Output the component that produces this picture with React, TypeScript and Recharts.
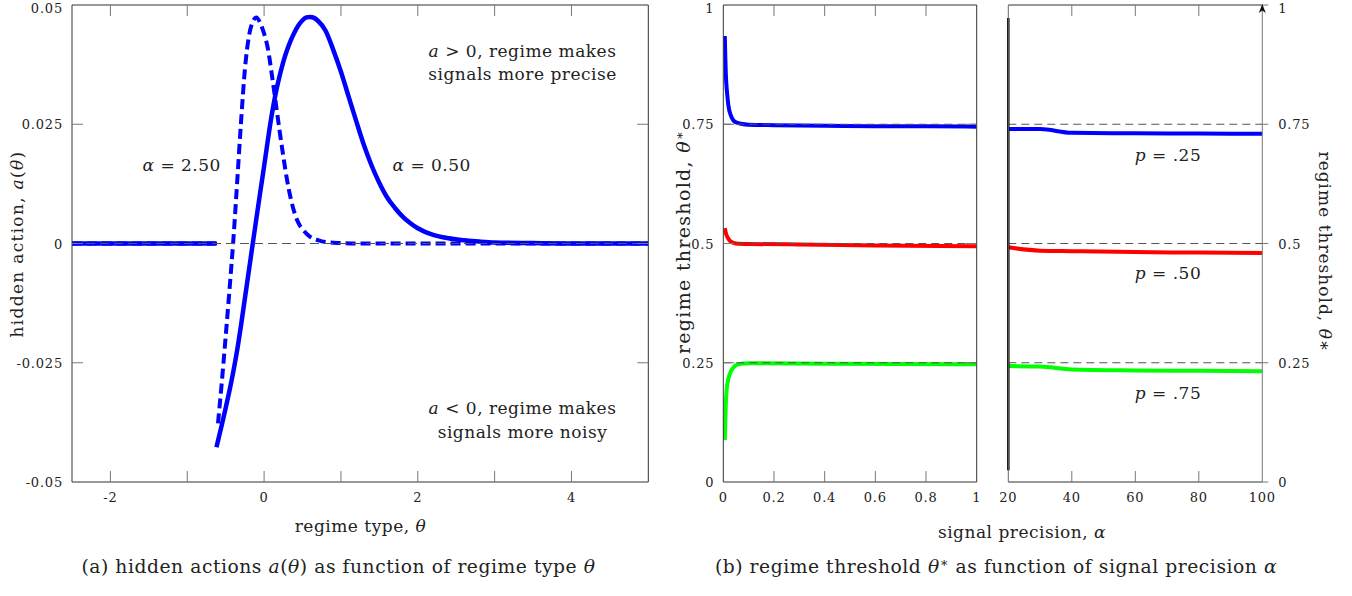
import React from 'react';
import { LineChart, Line, XAxis, YAxis, ReferenceLine } from 'recharts';

const FONT = '"DejaVu Serif", serif';
const TICK_COLOR = '#777';
const BORDER = '#333';
const REF_COLOR = '#555';
const BLUE = '#0000ff';
const RED = '#ff0000';
const GREEN = '#00ff00';

// ---------- Panel (a): hidden actions ----------
const thetaTicks = [-2, -1, 0, 1, 2, 3, 4];
const thetaTickLabels = ['-2', '', '0', '', '2', '', '4'];
const actionTicks = [-0.05, -0.025, 0, 0.025, 0.05];
const actionTickLabels = ['-0.05', '-0.025', '0', '0.025', '0.05'];

const zeroThetaLow = [-2.5, -0.63];
const zeroActionLow = [0, 0];
const zeroThetaHigh = [-2.5, -0.61];
const zeroActionHigh = [0, 0];

// alpha = 0.50 (solid)
const lowAlphaTheta = [-0.62, -0.55, -0.5, -0.45, -0.4, -0.35, -0.3, -0.25, -0.2, -0.15, -0.1, -0.05, 0, 0.05, 0.1, 0.15, 0.2, 0.25, 0.3, 0.35, 0.4, 0.45, 0.5, 0.55, 0.6, 0.65, 0.7, 0.8, 0.9, 1.0, 1.1, 1.2, 1.3, 1.4, 1.5, 1.6, 1.7, 1.8, 1.9, 2.0, 2.2, 2.4, 2.6, 2.8, 3.0, 3.5, 4.0, 5.0];
const lowAlphaAction = [-0.0427, -0.038, -0.0345, -0.0308, -0.0268, -0.0223, -0.0171, -0.0115, -0.0059, -0.0003, 0.0053, 0.0108, 0.0162, 0.0218, 0.027, 0.0314, 0.035, 0.0381, 0.0406, 0.0427, 0.0444, 0.0458, 0.0468, 0.0474, 0.0475, 0.0473, 0.0467, 0.0446, 0.0406, 0.036, 0.0308, 0.0256, 0.0206, 0.0163, 0.0127, 0.0097, 0.0075, 0.0057, 0.0043, 0.0032, 0.0018, 0.0011, 0.0007, 0.0004, 0.0002, 0.0001, 0, 0];

// alpha = 2.50 (dashed)
const highAlphaTheta = [-0.6, -0.55, -0.5, -0.45, -0.4, -0.35, -0.3, -0.25, -0.2, -0.15, -0.1, -0.05, 0, 0.05, 0.1, 0.15, 0.2, 0.25, 0.3, 0.35, 0.4, 0.45, 0.5, 0.6, 0.7, 0.8, 1.0, 1.2, 5.0];
const highAlphaAction = [-0.0377, -0.029, -0.0195, -0.0096, 0.0008, 0.013, 0.0255, 0.0365, 0.0432, 0.0464, 0.0474, 0.0462, 0.044, 0.0408, 0.0355, 0.0297, 0.0238, 0.0183, 0.0132, 0.0092, 0.0062, 0.0042, 0.003, 0.0014, 0.0007, 0.0003, 0.0001, 0, 0];

// ---------- Panel (b): regime threshold ----------
const thresholdTicks = [0, 0.25, 0.5, 0.75, 1];
const thresholdTickLabels = ['0', '0.25', '0.5', '0.75', '1'];
const precisionLowTicks = [0, 0.2, 0.4, 0.6, 0.8, 1];
const precisionLowTickLabels = ['0', '0.2', '0.4', '0.6', '0.8', '1'];
const precisionHighTicks = [20, 40, 60, 80, 100];
const precisionHighTickLabels = ['20', '40', '60', '80', '100'];
const referenceThresholds = [0.25, 0.5, 0.75];

const p25LowAlpha = [0.006, 0.008, 0.01, 0.015, 0.02, 0.03, 0.04, 0.05, 0.07, 0.1, 0.2, 0.4, 0.6, 0.8, 1.0];
const p25LowTheta = [0.935, 0.89, 0.855, 0.815, 0.79, 0.768, 0.758, 0.754, 0.751, 0.749, 0.748, 0.747, 0.746, 0.746, 0.745];
const p50LowAlpha = [0.006, 0.01, 0.02, 0.03, 0.05, 0.1, 0.3, 0.6, 1.0];
const p50LowTheta = [0.532, 0.522, 0.51, 0.504, 0.5, 0.499, 0.498, 0.496, 0.494];
const p75LowAlpha = [0.006, 0.008, 0.01, 0.013, 0.02, 0.03, 0.04, 0.05, 0.07, 0.1, 0.4, 1.0];
const p75LowTheta = [0.088, 0.13, 0.165, 0.192, 0.216, 0.232, 0.24, 0.245, 0.248, 0.249, 0.248, 0.247];

const highAlphaGrid = [20, 30, 40, 60, 80, 100];
const p25HighTheta = [0.74, 0.74, 0.732, 0.731, 0.7305, 0.73];
const p50HighTheta = [0.492, 0.485, 0.484, 0.482, 0.481, 0.48];
const p75HighTheta = [0.243, 0.242, 0.236, 0.234, 0.233, 0.232];

const zip = (xs: number[], ys: number[]) => xs.map((x, i) => ({ x, y: ys[i] }));

type Side = 'bottom' | 'top' | 'left' | 'right';
interface TickOpts {
  side: Side;
  len: number;
  ticks?: number[];
  labels?: string[];
  skipLine?: number[];
  outward?: boolean;
}

const makeTick = (o: TickOpts) => (props: any) => {
  const { x, y, payload } = props;
  const v = payload.value;
  const drawLine = !(o.skipLine || []).some((s) => Math.abs(s - v) < 1e-9);
  const d = o.outward ? -1 : 1;
  let x2 = x;
  let y2 = y;
  if (o.side === 'bottom') y2 = y - d * o.len;
  if (o.side === 'top') y2 = y + d * o.len;
  if (o.side === 'left') x2 = x + d * o.len;
  if (o.side === 'right') x2 = x - d * o.len;
  let label = '';
  if (o.ticks && o.labels) {
    const idx = o.ticks.findIndex((t) => Math.abs(t - v) < 1e-9);
    label = idx >= 0 ? o.labels[idx] : '';
  }
  let tx = x;
  let ty = y;
  let anchor: 'middle' | 'end' | 'start' = 'middle';
  if (o.side === 'bottom') ty = y + 19.5;
  if (o.side === 'left') {
    tx = x - 9;
    ty = Math.max(y + 5, 12.5);
    anchor = 'end';
  }
  if (o.side === 'right') {
    tx = x + 16;
    ty = Math.max(y + 5, 12.5);
    anchor = 'start';
  }
  return (
    <g>
      {drawLine && o.len > 0 && <line x1={x} y1={y} x2={x2} y2={y2} stroke={TICK_COLOR} strokeWidth={1} />}
      {label !== '' && (
        <text x={tx} y={ty} textAnchor={anchor} fontFamily={FONT} fontSize={13} letterSpacing={0.8} fill="#222">
          {label}
        </text>
      )}
    </g>
  );
};

const I = ({ children }: { children: React.ReactNode }) => <tspan fontStyle="italic">{children}</tspan>;

const lineCommon = { dot: false, isAnimationActive: false, activeDot: false } as any;
const axisCommon = { tickSize: 0, tickMargin: 0, tickLine: false, interval: 0, allowDataOverflow: true } as any;

function PanelA() {
  const dom: [number, number] = [-2.5, 5];
  const ydom: [number, number] = [-0.05, 0.05];
  return (
    <LineChart width={660} height={596} margin={{ top: 4, right: 10.7, bottom: 113, left: 71 }}>
      <XAxis xAxisId="b" dataKey="x" type="number" domain={dom} ticks={thetaTicks} height={1} axisLine={{ stroke: BORDER }} {...axisCommon}
        tick={makeTick({ side: 'bottom', len: 11, ticks: thetaTicks, labels: thetaTickLabels })} />
      <XAxis xAxisId="t" dataKey="x" type="number" orientation="top" domain={dom} ticks={thetaTicks} height={1} axisLine={{ stroke: BORDER }} {...axisCommon}
        tick={makeTick({ side: 'top', len: 11 })} />
      <YAxis yAxisId="l" type="number" domain={ydom} ticks={actionTicks} width={1} axisLine={{ stroke: BORDER }} {...axisCommon}
        tick={makeTick({ side: 'left', len: 11, ticks: actionTicks, labels: actionTickLabels, skipLine: [-0.05, 0.05] })} />
      <YAxis yAxisId="r" type="number" orientation="right" domain={ydom} ticks={actionTicks} width={1} axisLine={{ stroke: BORDER }} {...axisCommon}
        tick={makeTick({ side: 'right', len: 11, skipLine: [-0.05, 0.05] })} />
      <Line xAxisId="b" yAxisId="l" data={zip(zeroThetaHigh, zeroActionHigh)} dataKey="y" type="linear" stroke={BLUE} strokeWidth={4} strokeDasharray="10 5" {...lineCommon} />
      <Line xAxisId="b" yAxisId="l" data={zip(highAlphaTheta, highAlphaAction)} dataKey="y" type="monotone" stroke={BLUE} strokeWidth={4} strokeDasharray="10 5" {...lineCommon} />
      <Line xAxisId="b" yAxisId="l" data={zip(zeroThetaLow, zeroActionLow)} dataKey="y" type="linear" stroke={BLUE} strokeWidth={4.5} {...lineCommon} />
      <Line xAxisId="b" yAxisId="l" data={zip(lowAlphaTheta, lowAlphaAction)} dataKey="y" type="monotone" stroke={BLUE} strokeWidth={4.5} strokeLinejoin="round" {...lineCommon} />
      <ReferenceLine xAxisId="b" yAxisId="l" y={0} stroke={REF_COLOR} strokeWidth={1} strokeDasharray="9 5" />
    </LineChart>
  );
}

function PanelB1() {
  const dom: [number, number] = [0, 1];
  const ydom: [number, number] = [0, 1];
  return (
    <LineChart width={330} height={596} margin={{ top: 4, right: 12.3, bottom: 113, left: 62.3 }}>
      <XAxis xAxisId="b" dataKey="x" type="number" domain={dom} ticks={precisionLowTicks} height={1} axisLine={{ stroke: BORDER }} {...axisCommon}
        tick={makeTick({ side: 'bottom', len: 11, ticks: precisionLowTicks, labels: precisionLowTickLabels, skipLine: [0, 1] })} />
      <XAxis xAxisId="t" dataKey="x" type="number" orientation="top" domain={dom} ticks={precisionLowTicks} height={1} axisLine={{ stroke: BORDER }} {...axisCommon}
        tick={makeTick({ side: 'top', len: 11, skipLine: [0, 1] })} />
      <YAxis yAxisId="l" type="number" domain={ydom} ticks={thresholdTicks} width={1} axisLine={{ stroke: BORDER }} {...axisCommon}
        tick={makeTick({ side: 'left', len: 11, ticks: thresholdTicks, labels: thresholdTickLabels, skipLine: [0, 1] })} />
      <YAxis yAxisId="r" type="number" orientation="right" domain={ydom} ticks={thresholdTicks} width={1} axisLine={{ stroke: BORDER }} {...axisCommon}
        tick={makeTick({ side: 'right', len: 11, skipLine: [0, 1] })} />
      <Line xAxisId="b" yAxisId="l" data={zip(p25LowAlpha, p25LowTheta)} dataKey="y" type="monotone" stroke={BLUE} strokeWidth={4} {...lineCommon} />
      <Line xAxisId="b" yAxisId="l" data={zip(p50LowAlpha, p50LowTheta)} dataKey="y" type="monotone" stroke={RED} strokeWidth={4} {...lineCommon} />
      <Line xAxisId="b" yAxisId="l" data={zip(p75LowAlpha, p75LowTheta)} dataKey="y" type="monotone" stroke={GREEN} strokeWidth={4} {...lineCommon} />
      {referenceThresholds.map((t) => (
        <ReferenceLine key={t} xAxisId="b" yAxisId="l" y={t} stroke={REF_COLOR} strokeWidth={1} strokeDasharray="8 5" />
      ))}
    </LineChart>
  );
}

function PanelB2() {
  const dom: [number, number] = [20, 100];
  const ydom: [number, number] = [0, 1];
  return (
    <LineChart width={362} height={596} margin={{ top: 4, right: 88.7, bottom: 113, left: 17.3 }}>
      <XAxis xAxisId="b" dataKey="x" type="number" domain={dom} ticks={precisionHighTicks} height={1} axisLine={{ stroke: BORDER }} {...axisCommon}
        tick={makeTick({ side: 'bottom', len: 11, ticks: precisionHighTicks, labels: precisionHighTickLabels, skipLine: [20, 100] })} />
      <XAxis xAxisId="t" dataKey="x" type="number" orientation="top" domain={dom} ticks={precisionHighTicks} height={1} axisLine={{ stroke: BORDER }} {...axisCommon}
        tick={makeTick({ side: 'top', len: 11, skipLine: [20, 100] })} />
      <YAxis yAxisId="l" type="number" domain={ydom} ticks={thresholdTicks} width={1} axisLine={{ stroke: '#666' }} {...axisCommon}
        tick={makeTick({ side: 'left', len: 0 })} />
      <YAxis yAxisId="r" type="number" orientation="right" domain={ydom} ticks={thresholdTicks} width={1} axisLine={{ stroke: TICK_COLOR }} {...axisCommon}
        tick={makeTick({ side: 'right', len: 6, outward: true, ticks: thresholdTicks, labels: thresholdTickLabels })} />
      <Line xAxisId="b" yAxisId="l" data={zip(highAlphaGrid, p25HighTheta)} dataKey="y" type="monotone" stroke={BLUE} strokeWidth={4} {...lineCommon} />
      <Line xAxisId="b" yAxisId="l" data={zip(highAlphaGrid, p50HighTheta)} dataKey="y" type="monotone" stroke={RED} strokeWidth={4} {...lineCommon} />
      <Line xAxisId="b" yAxisId="l" data={zip(highAlphaGrid, p75HighTheta)} dataKey="y" type="monotone" stroke={GREEN} strokeWidth={4} {...lineCommon} />
      {referenceThresholds.map((t) => (
        <ReferenceLine key={t} xAxisId="b" yAxisId="l" y={t} stroke={REF_COLOR} strokeWidth={1} strokeDasharray="8 5" />
      ))}
      <ReferenceLine xAxisId="b" yAxisId="l" segment={[{ x: 20, y: 0.0245 }, { x: 20, y: 0.973 }]} stroke="#000" strokeWidth={2.5} />
    </LineChart>
  );
}

export default function App() {
  const txt = { fontFamily: FONT, fontSize: 17, letterSpacing: 0.5, fill: '#222' } as any;
  const cap = { ...txt, fontSize: 18.7, letterSpacing: 0.55 };
  return (
    <div style={{ position: 'absolute', left: 0, top: 0, width: 1352, height: 596, background: '#fff', fontFamily: FONT }}>
      <div style={{ position: 'absolute', left: 0, top: 0 }}>
        <PanelA />
      </div>
      <div style={{ position: 'absolute', left: 660, top: 0 }}>
        <PanelB1 />
      </div>
      <div style={{ position: 'absolute', left: 990, top: 0 }}>
        <PanelB2 />
      </div>
      <svg width={1352} height={596} style={{ position: 'absolute', left: 0, top: 0, pointerEvents: 'none' }}>
        {/* panel (a) texts */}
        <text {...txt} letterSpacing={1.3} x={23} y={244} textAnchor="middle" transform="rotate(-90 23 244)">
          hidden action, <I>a</I>(<I>θ</I>)
        </text>
        <text {...txt} x={360.5} y={532} textAnchor="middle">
          regime type, <I>θ</I>
        </text>
        <text {...txt} x={522.5} y={57} textAnchor="middle">
          <I>a</I> {'>'} 0, regime makes
        </text>
        <text {...txt} x={522.5} y={80} textAnchor="middle">
          signals more precise
        </text>
        <text {...txt} x={522.5} y={414} textAnchor="middle">
          <I>a</I> {'<'} 0, regime makes
        </text>
        <text {...txt} x={522.5} y={438} textAnchor="middle">
          signals more noisy
        </text>
        <text {...txt} x={181.7} y={171} textAnchor="middle">
          <I>α</I> = 2.50
        </text>
        <text {...txt} x={431.7} y={171} textAnchor="middle">
          <I>α</I> = 0.50
        </text>
        <text {...cap} x={338.5} y={573} textAnchor="middle">
          (a) hidden actions <I>a</I>(<I>θ</I>) as function of regime type <I>θ</I>
        </text>
        {/* panel (b) texts */}
        <text {...txt} fontSize={19} letterSpacing={1.3} x={690} y={242} textAnchor="middle" transform="rotate(-90 690 242)">
          regime threshold, <I>θ</I>
          <tspan dy={-6} fontSize={13}>∗</tspan>
        </text>
        <text {...txt} letterSpacing={1.0} x={1319} y={252} textAnchor="middle" transform="rotate(90 1319 252)">
          regime threshold, <I>θ</I>∗
        </text>
        <text {...txt} x={1022} y={538} textAnchor="middle">
          signal precision, <I>α</I>
        </text>
        <text {...cap} x={996} y={573} textAnchor="middle">
          (b) regime threshold <I>θ</I>
          <tspan dy={-6} fontSize={13}>∗</tspan>
          <tspan dy={6}> as function of signal precision </tspan>
          <I>α</I>
        </text>
        <text {...txt} x={1168} y={161} textAnchor="middle">
          <I>p</I> = .25
        </text>
        <text {...txt} x={1168} y={279} textAnchor="middle">
          <I>p</I> = .50
        </text>
        <text {...txt} x={1168} y={399} textAnchor="middle">
          <I>p</I> = .75
        </text>
        <path d="M1262.3 4 L1258.8 13 L1262.3 10.5 L1265.8 13 Z" fill="#111" />
      </svg>
    </div>
  );
}
